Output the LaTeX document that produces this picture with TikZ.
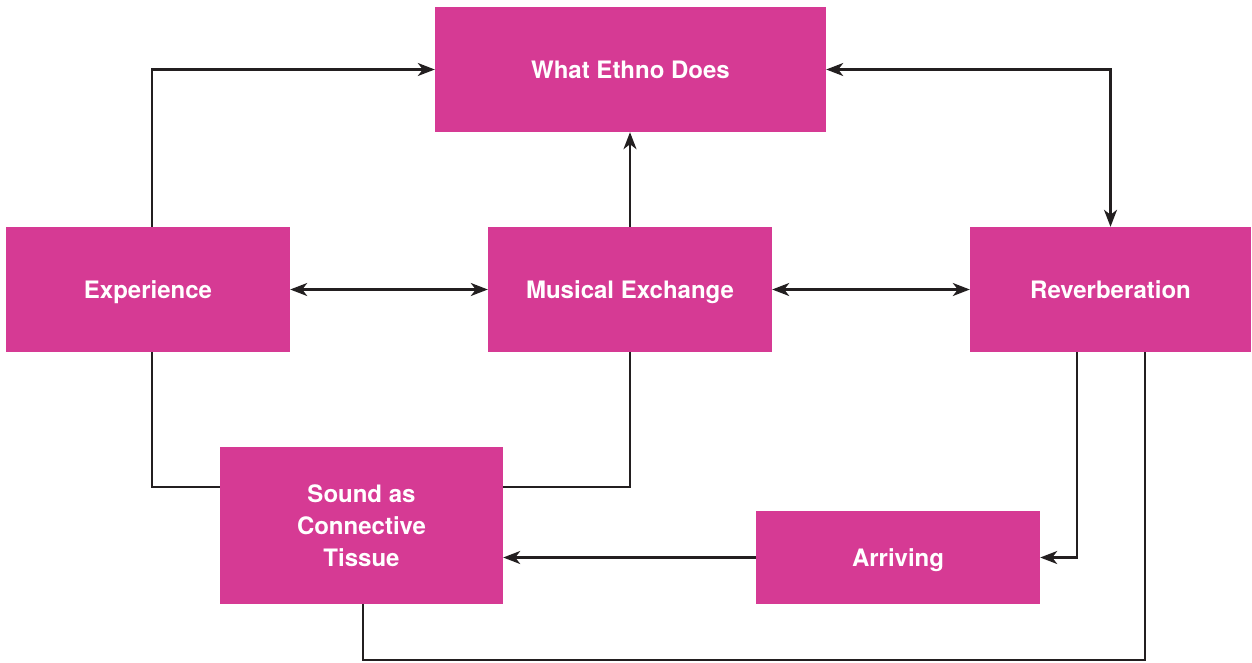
\documentclass[tikz,border=0pt]{standalone}
\usepackage{fontspec}
\setmainfont{TeX Gyre Heros}
\usetikzlibrary{arrows.meta}
\definecolor{boxmag}{HTML}{D63A94}
\definecolor{linegray}{HTML}{231F20}
\begin{document}
\begin{tikzpicture}[x=1pt,y=-1pt,
  box/.style={fill=boxmag,draw=none,text=white,align=center,inner sep=0pt,
    font=\fontsize{24}{32}\selectfont\bfseries},
  oneline/.style={text height=17.3pt,text depth=0pt},
  conn/.style={draw=linegray,line width=2.4pt},
  tip/.style={-{Stealth[length=17pt,width=13pt,inset=5pt]}},
  tips/.style={{Stealth[length=17pt,width=13pt,inset=5pt]}-{Stealth[length=17pt,width=13pt,inset=5pt]}}]
\useasboundingbox (0,0) rectangle (1252,662);
\node[box,oneline,minimum width=391pt,minimum height=125pt] (what) at (630.5,69.5) {What Ethno Does};
\node[box,oneline,minimum width=284pt,minimum height=125pt] (exp) at (148,289.5) {Experience};
\node[box,oneline,minimum width=284pt,minimum height=125pt] (mus) at (630,289.5) {Musical Exchange};
\node[box,oneline,minimum width=281pt,minimum height=125pt] (rev) at (1110.5,289.5) {Reverberation};
\node[box,minimum width=283pt,minimum height=157pt] (sound) at (361.5,525.5) {Sound as\\Connective\\Tissue};
\node[box,oneline,minimum width=284pt,minimum height=93pt] (arr) at (898,557.5) {Arriving};

\draw[conn,tip] ([xshift=4pt]exp.north) |- (what.west);
\draw[conn,tip] (mus.north) -- (mus.north |- what.south);
\draw[conn,tips] (what.east) -| (rev.north);
\draw[conn,tips] (exp.east) -- (mus.west);
\draw[conn,tips] (mus.east) -- (rev.west);
\draw[conn] ([xshift=4pt]exp.south) |- ([yshift=-40pt]sound.north west);
\draw[conn] (mus.south) |- ([yshift=-40pt]sound.north east);
\draw[conn,tip] ([xshift=-33.5pt]rev.south) |- (arr.east);
\draw[conn,tip] (arr.west) -- (arr.west -| sound.east);
\draw[conn] ([xshift=1.5pt]sound.south) -- ([xshift=1.5pt,yshift=-56pt]sound.south) -| ([xshift=34.5pt]rev.south);
\end{tikzpicture}
\end{document}
